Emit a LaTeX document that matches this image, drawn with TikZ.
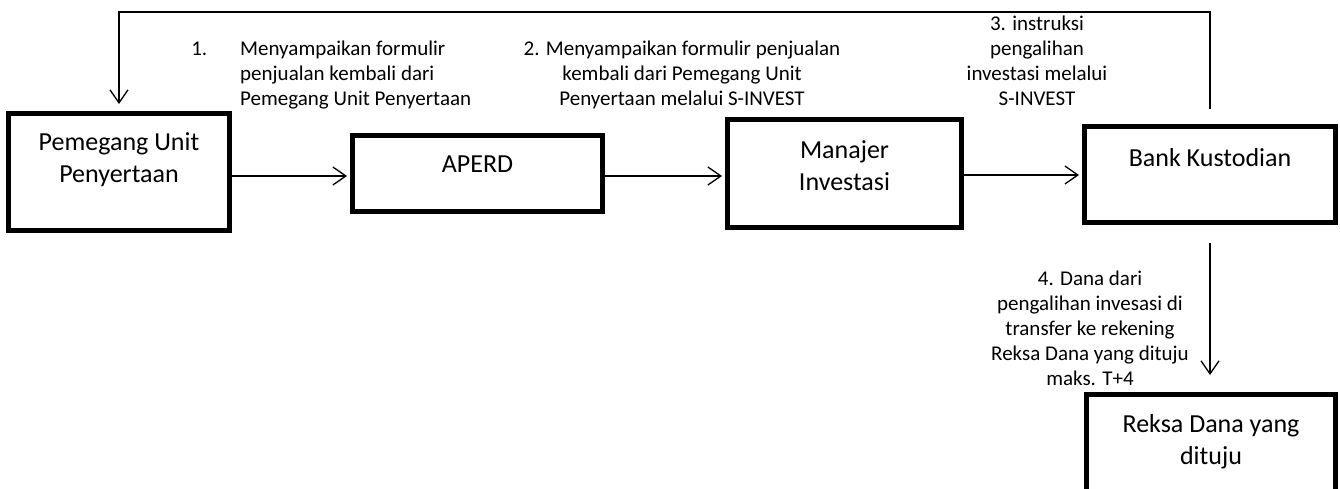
\documentclass[tikz,border=0pt]{standalone}
\usepackage{fontspec}
\setmainfont{Carlito}
\usetikzlibrary{arrows.meta}

\begin{document}
\begin{tikzpicture}[x=1pt, y=-1pt,
		box/.style={draw, line width=5pt, outer sep=2.5pt, inner sep=0pt, anchor=north west},
		boxtext/.style={font=\fontsize{26}{32}\selectfont, align=center, inner sep=0pt},
		lbl/.style={font=\fontsize{21}{25}\selectfont, align=center, inner sep=0pt},
		flow/.style={line width=1.3pt, shorten >=3pt, -{Straight Barb[length=13pt, width=18pt]}}]
			\path[use as bounding box, clip] (0,0) rectangle (1340,489);

			\node[box, minimum width=221pt, minimum height=117pt] (pemegang) at (6,111) {};
			\node[box, minimum width=250pt, minimum height=76pt] (aperd) at (350,133) {};
			\node[box, minimum width=234pt, minimum height=108pt] (manajer) at (725,117) {};
			\node[box, minimum width=251pt, minimum height=96pt] (bank) at (1082,124) {};
			\node[box, minimum width=249pt, minimum height=120pt] (reksa) at (1084,392) {};

			\node[boxtext] (pemegang-t) at ([yshift=-49pt]pemegang.north) {Pemegang Unit\\Penyertaan};
			\node[boxtext] (aperd-t) at ([yshift=-31pt]aperd.north) {APERD};
			\node[boxtext] (manajer-t) at ([yshift=-49pt]manajer.north) {Manajer\\Investasi};
			\node[boxtext] (bank-t) at ([yshift=-34pt]bank.north) {Bank Kustodian};
			\node[boxtext] (reksa-t) at ([yshift=-50pt]reksa.north) {Reksa Dana yang\\dituju};

			\draw[flow] (pemegang.east |- 0,176) -- (aperd.west |- 0,176);
			\draw[flow] (aperd.east |- 0,176) -- (manajer.west |- 0,176);
			\draw[flow] (manajer.east |- 0,175) -- (bank.west |- 0,175);
			\draw[flow, shorten >=7pt] ([yshift=15pt]bank.north) |- (pemegang.north |- 0,12) -- (pemegang.north);
			\draw[flow, shorten >=17pt] ([yshift=-18pt]bank.south) -- (bank.south |- reksa.north);

			\node[lbl, align=left, anchor=west] (step1) at (240,75) {\llap{1.\hspace{33pt}}Menyampaikan formulir\\penjualan kembali dari\\Pemegang Unit Penyertaan};
			\node[lbl] (step2) at (682,75) {2. Menyampaikan formulir penjualan\\kembali dari Pemegang Unit\\Penyertaan melalui S-INVEST};
			\node[lbl] (step3) at (1037,61) {3. instruksi\\pengalihan\\investasi melalui\\S-INVEST};
			\node[lbl] (step4) at (1090,328) {4. Dana dari\\pengalihan invesasi di\\transfer ke rekening\\Reksa Dana yang dituju\\maks. T+4};
		\end{tikzpicture}
\end{document}
